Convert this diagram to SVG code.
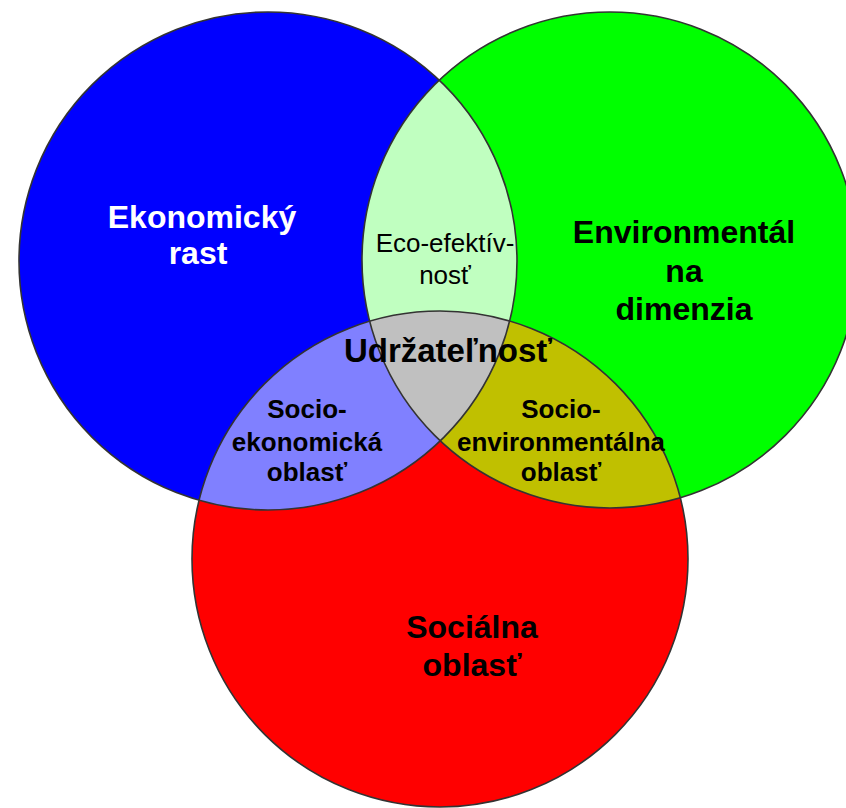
<svg xmlns="http://www.w3.org/2000/svg" width="846" height="808" viewBox="0 0 846 808">
<style>
.edge{fill:none;stroke:#333;stroke-width:1.6}
.big{font-family:"Liberation Sans",Arial,sans-serif;font-weight:bold;font-size:32px;text-anchor:middle}
.mid{font-family:"Liberation Sans",Arial,sans-serif;font-weight:bold;font-size:26px;text-anchor:middle;fill:#000}
.reg{font-family:"Liberation Sans",Arial,sans-serif;font-size:26px;text-anchor:middle;fill:#000}
</style>
<defs>
<circle id="cB" cx="268" cy="261" r="249"/>
<circle id="cG" cx="610" cy="260" r="248"/>
<circle id="cR" cx="440" cy="559" r="248"/>
<clipPath id="clipB"><use href="#cB"/></clipPath>
<clipPath id="clipG"><use href="#cG"/></clipPath>
<clipPath id="clipBG" clip-path="url(#clipB)"><use href="#cG"/></clipPath>
</defs>
<rect width="846" height="808" fill="#fff"/>
<g id="ekonomicky">
<use href="#cB" fill="#0000ff"/>
</g>
<g id="environmentalna">
<use href="#cG" fill="#00ff00"/>
</g>
<g id="socialna">
<use href="#cR" fill="#ff0000"/>
</g>
<g id="eco-efektivnost">
<use href="#cG" fill="#c0ffc0" clip-path="url(#clipB)"/>
</g>
<g id="socio-ekonomicka">
<use href="#cR" fill="#8080ff" clip-path="url(#clipB)"/>
</g>
<g id="socio-environmentalna">
<use href="#cR" fill="#c0c000" clip-path="url(#clipG)"/>
</g>
<g id="udrzatelnost">
<use href="#cR" fill="#c0c0c0" clip-path="url(#clipBG)"/>
</g>
<g id="outlines">
<use href="#cB" class="edge"/>
<use href="#cG" class="edge"/>
<use href="#cR" class="edge"/>
</g>
<g id="labels">
<text class="big" fill="#fff" x="202" y="228">Ekonomický</text>
<text class="big" fill="#fff" x="198" y="264">rast</text>
<text class="big" fill="#000" x="684" y="243">Environmentál</text>
<text class="big" fill="#000" x="684" y="282">na</text>
<text class="big" fill="#000" x="684" y="320">dimenzia</text>
<text class="big" fill="#000" x="472" y="638">Sociálna</text>
<text class="big" fill="#000" x="472" y="676">oblasť</text>
<text class="big" fill="#000" x="448" y="362" style="font-size:33px">Udržateľnosť</text>
<text class="reg" x="445" y="252">Eco-efektív-</text>
<text class="reg" x="445" y="284">nosť</text>
<text class="mid" x="307" y="418">Socio-</text>
<text class="mid" x="307" y="451">ekonomická</text>
<text class="mid" x="307" y="481">oblasť</text>
<text class="mid" x="561" y="418">Socio-</text>
<text class="mid" x="561" y="451">environmentálna</text>
<text class="mid" x="561" y="481">oblasť</text>
</g>
</svg>
